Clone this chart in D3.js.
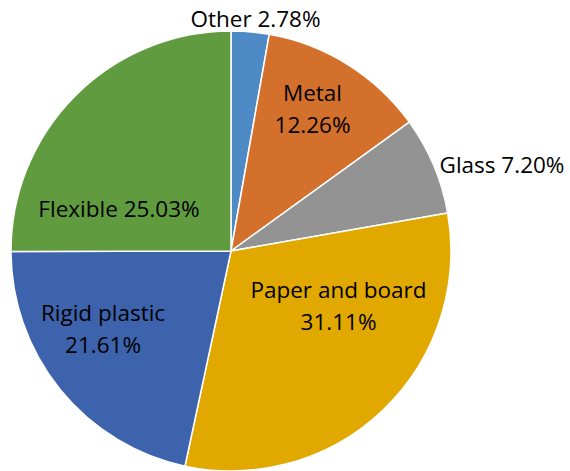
<!DOCTYPE html>
<html><head><meta charset="utf-8">
<script src="https://cdn.jsdelivr.net/npm/d3@7"></script>
<style>body{margin:0;background:#fff}svg{display:block}</style>
</head><body>
<svg id="chart" width="570" height="471"></svg>
<script>
const categories = ["Other", "Metal", "Glass", "Paper and board", "Rigid plastic", "Flexible"];
const values = [2.78, 12.26, 7.20, 31.11, 21.61, 25.03];
const colors = ["#4e8ac5", "#d3702c", "#939393", "#e1a800", "#3e63ad", "#609b3f"];
// label layout (offsets from pie centre, line splits)
const labelLines = [["Other 2.78%"], ["Metal", "12.26%"], ["Glass 7.20%"], ["Paper and board", "31.11%"], ["Rigid plastic", "21.61%"], ["Flexible 25.03%"]];
const labelPos = [[24.5, -231.5], [81.5, -142], [271, -86], [107.5, 55], [-128, 78.5], [-112, -41.5]];

const svg = d3.select("#chart");
const cx = 231, cy = 251, r = 220;
const g = svg.append("g").attr("transform", `translate(${cx},${cy})`);
const pie = d3.pie().sort(null).value(d => d.v);
const data = pie(categories.map((c, i) => ({c, v: values[i], i})));
const arc = d3.arc().innerRadius(0).outerRadius(r);
g.selectAll("path").data(data).join("path")
  .attr("d", arc)
  .attr("fill", d => colors[d.data.i])
  .attr("stroke", "#fff").attr("stroke-width", 1.5).attr("stroke-linejoin", "round");

const lh = 32;
const labels = g.selectAll("text.lbl").data(data).join("text").attr("class", "lbl")
  .attr("text-anchor", "middle")
  .attr("font-family", "'Open Sans', sans-serif")
  .attr("font-size", 22.5).attr("fill", "#000")
  .attr("transform", d => `translate(${labelPos[d.data.i][0]},${labelPos[d.data.i][1]})`);
labels.each(function(d) {
  const lines = labelLines[d.data.i];
  const t = d3.select(this);
  lines.forEach((l, k) => {
    t.append("tspan").attr("x", 0).attr("y", (k - (lines.length - 1) / 2) * lh).attr("dy", "0.35em").text(l);
  });
});
</script>
</body></html>
